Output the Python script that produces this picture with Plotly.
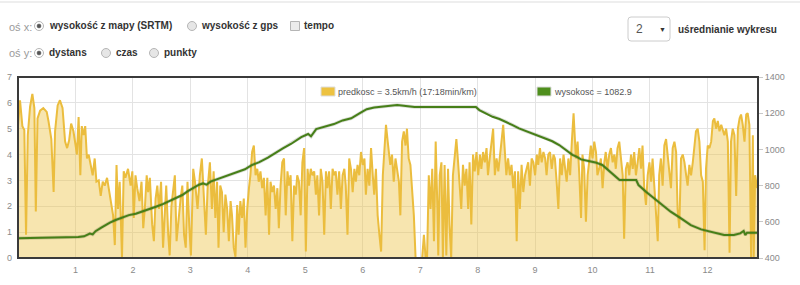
import plotly.graph_objects as go

# ---------------- data ----------------
speed_km = [
    0.0, 0.035, 0.076, 0.11, 0.14, 0.17, 0.21, 0.25, 0.285, 0.31, 0.34, 0.385, 0.44, 0.50, 0.53, 0.58,
    0.62, 0.645, 0.69, 0.73, 0.775, 0.82, 0.855, 0.89, 0.925, 0.965, 1.0, 1.025, 1.055, 1.085, 1.11,
    1.14, 1.17, 1.20, 1.23, 1.26, 1.30, 1.335, 1.365, 1.405, 1.44, 1.475, 1.51, 1.55, 1.59, 1.625,
    1.655, 1.685, 1.715, 1.74, 1.77, 1.81, 1.84, 1.87, 1.915, 1.96, 1.99, 2.015, 2.045, 2.075, 2.115,
    2.15, 2.18, 2.21, 2.24, 2.265, 2.295, 2.335, 2.365, 2.395, 2.425, 2.455, 2.49, 2.525, 2.55, 2.58,
    2.615, 2.64, 2.67, 2.70, 2.73, 2.76, 2.80, 2.83, 2.86, 2.89, 2.92, 2.95, 2.98, 3.01, 3.05, 3.08,
    3.125, 3.165, 3.20, 3.23,
    3.27, 3.30, 3.34, 3.375, 3.405, 3.435, 3.465, 3.49, 3.52, 3.55, 3.58, 3.61, 3.64, 3.67, 3.70,
    3.725, 3.755, 3.785, 3.815, 3.84, 3.87, 3.90, 3.93, 3.96, 3.99, 4.02, 4.045, 4.075, 4.105, 4.135,
    4.165, 4.19, 4.22, 4.25, 4.28, 4.31, 4.34, 4.37, 4.395, 4.425, 4.455, 4.485, 4.515, 4.54, 4.57,
    4.60, 4.63, 4.66, 4.69, 4.715, 4.745, 4.775, 4.805, 4.835, 4.86, 4.89, 4.92, 4.95, 4.98, 5.01,
    5.04, 5.065, 5.095, 5.125, 5.155, 5.185, 5.21, 5.24, 5.27, 5.30, 5.33, 5.36, 5.385, 5.415, 5.445,
    5.475, 5.505, 5.53, 5.56, 5.59, 5.62, 5.65, 5.68, 5.705, 5.735, 5.765, 5.795, 5.825, 5.855, 5.88,
    5.91, 5.94, 5.97, 6.0, 6.03, 6.055, 6.085, 6.115, 6.145, 6.175, 6.20, 6.23, 6.26, 6.29, 6.32,
    6.35, 6.38, 6.405, 6.435,
    6.48, 6.51, 6.54, 6.57, 6.60, 6.63, 6.655, 6.685, 6.715, 6.745, 6.77, 6.80, 6.83, 6.86, 6.89,
    6.92, 7.035, 7.065, 7.095, 7.12, 7.15, 7.18, 7.21, 7.24, 7.27, 7.30, 7.315, 7.34, 7.37, 7.395,
    7.425, 7.455, 7.485, 7.51, 7.54, 7.57, 7.60, 7.63, 7.66, 7.69, 7.715, 7.745, 7.775, 7.805, 7.835,
    7.86, 7.89, 7.92, 7.95, 7.98, 8.01, 8.04, 8.065, 8.095, 8.125, 8.155, 8.18, 8.21, 8.24, 8.27,
    8.30, 8.33, 8.36, 8.385, 8.415, 8.445, 8.475, 8.50, 8.53, 8.56, 8.59, 8.62, 8.65, 8.68, 8.705,
    8.735, 8.765, 8.795, 8.825, 8.855, 8.88, 8.91, 8.94, 8.97, 9.0, 9.03, 9.055, 9.085, 9.115, 9.145,
    9.175, 9.20, 9.23, 9.26, 9.29, 9.32, 9.345, 9.375, 9.405, 9.435, 9.465, 9.495, 9.52, 9.55, 9.58,
    9.61, 9.64, 9.67,
    9.71, 9.74, 9.77, 9.80, 9.825, 9.855, 9.885, 9.915, 9.94, 9.97, 10.0, 10.03, 10.06, 10.085,
    10.115, 10.145, 10.175, 10.205, 10.23, 10.26, 10.29, 10.32, 10.35, 10.38, 10.405, 10.435, 10.465,
    10.495, 10.525, 10.55, 10.58, 10.61, 10.64, 10.67, 10.70, 10.725, 10.755, 10.785, 10.815, 10.845,
    10.87, 10.90, 10.93, 10.96, 10.99, 11.02, 11.045, 11.075, 11.105, 11.135, 11.16, 11.19, 11.22,
    11.25, 11.28, 11.31, 11.335, 11.365, 11.395, 11.425, 11.455, 11.48, 11.51, 11.54, 11.57, 11.60,
    11.63, 11.655, 11.685, 11.715, 11.745, 11.775, 11.80, 11.83, 11.86, 11.89, 11.92, 11.95, 11.975,
    12.005, 12.035, 12.065, 12.095, 12.12, 12.15, 12.18, 12.21, 12.24, 12.265, 12.295, 12.325,
    12.355, 12.385, 12.41, 12.44, 12.47, 12.50, 12.53, 12.56, 12.585, 12.615, 12.645, 12.675, 12.70,
    12.73, 12.76, 12.79, 12.805, 12.83, 12.865,
]
speed_kmh = [
    5.1, 6.1, 5.1, 4.95, 0.9, 4.75, 5.85, 6.35, 5.8, 1.8, 5.4, 5.7, 5.8, 5.65, 5.3, 4.6,
    2.55, 4.9, 5.9, 6.1, 5.8, 4.5, 4.25, 4.55, 5.2, 4.9, 4.4, 4.0, 5.45, 3.2, 5.1,
    4.75, 5.1, 3.85, 4.0, 3.7, 3.2, 3.85, 2.95, 3.0, 2.4, 2.95, 2.8, 3.1, 2.55, 1.9,
    1.65, 0.5, 3.6, 1.9, 2.95, 0.0, 3.35, 3.1, 3.45, 2.8, 3.35, 1.55, 3.2, 2.7, 2.2,
    2.95, 1.15, 2.0, 3.2, 2.55, 3.1, 1.3, 0.65, 2.3, 2.8, 1.9, 2.95, 0.4, 1.65, 2.8,
    0.9, 0.1, 2.0, 2.7, 3.2, 0.65, 1.65, 2.3, 2.8, 0.9, 0.4, 2.95, 1.3, 0.1, 3.45, 2.95,
    1.9, 3.2, 3.85, 2.55,
    0.9, 2.7, 3.7, 1.9, 3.35, 1.55, 2.95, 0.4, 2.8, 2.55, 1.0, 2.45, 1.9, 0.65, 2.2,
    1.65, 0.4, 0.05, 2.05, 0.9, 2.2, 1.55, 2.3, 0.4, 1.9, 2.7, 3.2, 4.1, 4.35, 3.2,
    3.45, 2.95, 3.35, 2.7, 3.1, 1.65, 3.1, 0.9, 2.95, 2.55, 2.8, 1.9, 2.7, 1.15, 2.8,
    3.7, 3.85, 1.65, 3.35, 2.8, 3.2, 0.65, 2.8, 2.45, 3.2, 2.95, 1.65, 3.7, 4.25, 0.25,
    3.45, 2.8, 3.45, 3.2, 3.35, 2.45, 3.2, 1.65, 3.45, 2.95, 0.9, 3.35, 2.7, 3.35, 1.9,
    3.45, 3.2, 3.35, 2.45, 3.35, 1.9, 3.2, 3.45, 2.8, 0.9, 3.85, 3.45, 2.55, 3.45, 2.95,
    3.6, 3.2, 4.1, 3.6, 3.85, 2.45, 3.45, 2.8, 4.25, 3.2, 2.45, 3.45, 1.65, 0.9, 0.25,
    3.2, 4.5, 5.15, 4.5,
    3.6, 4.0, 2.95, 3.85, 3.45, 2.95, 1.65, 4.5, 4.9, 4.35, 5.0, 3.85, 3.6, 2.7, 1.65,
    0.0, 0.0, 0.9, 0.0, 0.0, 3.2, 1.9, 3.45, 0.65, 4.5, 1.9, 0.1, 3.2, 3.7, 0.0,
    3.6, 0.1, 3.45, 1.3, 0.0, 3.2, 4.0, 4.6, 3.7, 2.8, 1.9, 3.6, 2.8, 3.45, 1.9,
    3.7, 1.3, 4.0, 3.35, 4.1, 3.2, 4.0, 3.45, 4.1, 3.7, 4.25, 3.2, 3.85, 4.35, 5.0,
    3.2, 3.85, 3.35, 4.0, 4.5, 5.15, 4.0, 3.2, 3.85, 3.2, 3.6, 2.7, 3.35, 0.65, 3.35,
    1.9, 3.6, 2.55, 3.2, 3.45, 3.7, 2.8, 3.85, 3.7, 3.2, 4.0, 3.6, 4.25, 3.7, 4.1,
    3.85, 3.2, 4.0, 4.1, 3.45, 4.0, 3.85, 2.95, 1.9, 3.85, 3.2, 4.0, 3.6, 2.95, 3.85,
    3.2, 4.5, 5.6,
    3.85, 4.5, 3.2, 1.55, 4.0, 3.45, 1.4, 3.2, 3.7, 4.35, 3.85, 4.5, 4.1, 3.2,
    3.45, 3.85, 2.7, 3.7, 4.1, 3.45, 4.0, 4.25, 3.7, 4.0, 3.45, 4.25, 4.5,
    3.7, 3.2, 0.75, 3.45, 3.7, 3.2, 4.0, 3.45, 4.1, 3.2, 3.7, 4.25, 3.45,
    4.35, 2.7, 2.05, 3.2, 3.7, 2.95, 3.85, 2.8, 1.65, 0.65, 3.2, 3.85, 2.8,
    4.35, 4.6, 3.85, 3.2, 2.7, 4.25, 4.5, 4.1, 1.9, 1.15, 3.85, 4.0, 3.7,
    3.2, 2.8, 3.6, 3.2, 3.7, 4.5, 4.9, 5.0, 4.5, 3.2, 2.95, 0.3, 3.45,
    4.35, 4.25, 4.5, 5.3, 5.4, 5.0, 5.3, 4.9, 5.15, 5.0, 4.75, 5.0,
    4.5, 0.2, 4.5, 5.0, 4.75, 2.4, 5.0, 5.4, 5.55, 5.15, 4.5, 5.55, 5.6,
    5.15, 0.0, 4.75, 0.0, 3.2, 2.7,
]

elev_km = [
    0.0, 0.3, 0.6, 0.9, 1.05, 1.15, 1.25, 1.3, 1.35, 1.45, 1.52, 1.6, 1.7, 1.8, 1.93, 2.05, 2.16,
    2.28, 2.4, 2.52, 2.63, 2.75, 2.86, 2.95, 3.09, 3.15, 3.22, 3.28, 3.35, 3.5, 3.65, 3.8, 3.95,
    4.06, 4.2, 4.35, 4.5, 4.61, 4.75, 4.93, 5.05, 5.1, 5.19, 5.35, 5.5, 5.65, 5.8, 5.95, 6.07,
    6.2, 6.4, 6.6, 6.75, 6.9, 7.3, 7.6, 7.75, 7.8, 7.97, 8.03, 8.15, 8.26, 8.38, 8.49, 8.6, 8.72,
    8.85, 8.96, 9.08, 9.19, 9.3, 9.42, 9.55, 9.65, 9.72, 9.8, 9.95, 10.05, 10.17, 10.3, 10.47,
    10.76, 10.8, 10.93, 11.0, 11.13, 11.25, 11.36, 11.54, 11.71, 11.89, 12.06, 12.29, 12.46,
    12.57, 12.63, 12.66, 12.69, 12.88,
]
elev_m = [
    509, 510, 512, 515, 516, 520, 535, 530, 548, 568, 582, 596, 610, 622, 637, 645, 656,
    668, 683, 698, 715, 730, 748, 768, 794, 805, 812, 805, 822, 840, 855, 872, 890,
    912, 930, 955, 985, 1006, 1030, 1068, 1085, 1072, 1112, 1125, 1140, 1160, 1172, 1200, 1222,
    1232, 1238, 1245, 1240, 1234, 1234, 1234, 1238, 1234, 1234, 1217, 1200, 1180, 1168, 1153, 1135, 1116,
    1100, 1089, 1075, 1061, 1045, 1024, 995, 970, 960, 945, 935, 928, 914, 880, 831,
    831, 803, 766, 748, 711, 683, 656, 619, 582, 558, 545, 527, 527,
    536, 549, 527, 540, 540,
]

x_ticks = list(range(1, 13))
y_ticks = list(range(0, 8))
y2_ticks = [400, 600, 800, 1000, 1200, 1400]

legend_speed = "predkosc = 3.5km/h (17:18min/km)"
legend_elev = "wysokosc = 1082.9"

row1 = [("wysokość z mapy (SRTM)", "radio_on"), ("wysokość z gps", "radio_off"), ("tempo", "check")]
row2 = [("dystans", "radio_on"), ("czas", "radio_off"), ("punkty", "radio_off")]
avg_value = "2"
avg_label = "uśrednianie wykresu"

# ---------------- geometry helpers (pixel -> paper) ----------------
W, H = 800, 285
L, R, T, B = 18, 758, 77, 258
PW, PH = R - L, B - T


def px(x):
    return (x - L) / PW


def py(y):
    return (B - y) / PH


YELLOW = "#ebbd3e"
YELLOW_FILL = "rgba(237,194,64,0.42)"
GREEN = "#467f18"
FONT = "Liberation Sans, Arial, sans-serif"

fig = go.Figure()
fig.add_trace(go.Scatter(
    x=speed_km, y=speed_kmh, mode="lines", fill="tozeroy", fillcolor=YELLOW_FILL,
    line=dict(color=YELLOW, width=2), hoverinfo="skip", showlegend=False, yaxis="y"))
fig.add_trace(go.Scatter(
    x=elev_km, y=elev_m, mode="lines", line=dict(color="rgba(40,60,10,0.18)", width=3.5),
    hoverinfo="skip", showlegend=False, yaxis="y2"))
fig.add_trace(go.Scatter(
    x=elev_km, y=elev_m, mode="lines", line=dict(color=GREEN, width=2),
    hoverinfo="skip", showlegend=False, yaxis="y2"))

shapes = []
annotations = []

# plot border
shapes.append(dict(type="rect", xref="paper", yref="paper", x0=0, x1=1, y0=0, y1=1,
                   line=dict(color="#3a3a3a", width=2), layer="above"))
# top separator line of page
shapes.append(dict(type="line", xref="paper", yref="paper", x0=px(0), x1=px(800), y0=py(2), y1=py(2),
                   line=dict(color="#dddddd", width=1)))


def text(x, y, s, size=10, color="#333333", bold=False, anchor="left"):
    annotations.append(dict(
        x=px(x), y=py(y), xref="paper", yref="paper", text=("<b>%s</b>" % s) if bold else s,
        showarrow=False, xanchor=anchor, yanchor="middle", borderpad=0,
        font=dict(family=FONT, size=size, color=color)))


def radio(cx, cy, on):
    r = 4.5
    shapes.append(dict(type="circle", xref="paper", yref="paper",
                       x0=px(cx - r), x1=px(cx + r), y0=py(cy + r), y1=py(cy - r),
                       line=dict(color="#b5b5b5", width=1),
                       fillcolor="#ffffff" if on else "#e6e6e6"))
    if on:
        r2 = 2
        shapes.append(dict(type="circle", xref="paper", yref="paper",
                           x0=px(cx - r2), x1=px(cx + r2), y0=py(cy + r2), y1=py(cy - r2),
                           line=dict(color="#555555", width=0.5), fillcolor="#555555"))


def checkbox(cx, cy):
    s = 4.5
    shapes.append(dict(type="rect", xref="paper", yref="paper",
                       x0=px(cx - s), x1=px(cx + s), y0=py(cy + s), y1=py(cy - s),
                       line=dict(color="#b5b5b5", width=1), fillcolor="#ececec"))


# row 1
text(8, 27, "oś x:", size=11, color="#9a9a9a")
r1_pos = [(39, 48), (192, 200), (295, 303)]
for (lab, kind), (cx, tx) in zip(row1, r1_pos):
    if kind == "check":
        checkbox(cx, 26)
    else:
        radio(cx, 26, kind == "radio_on")
    text(tx, 26, lab, size=10, color="#333333", bold=True)

# row 2
text(8, 53, "oś y:", size=11, color="#9a9a9a")
r2_pos = [(39, 48), (106, 115), (154, 163)]
for (lab, kind), (cx, tx) in zip(row2, r2_pos):
    radio(cx, 53, kind == "radio_on")
    text(tx, 53, lab, size=10, color="#333333", bold=True)

# dropdown
x0d, x1d, y0d, y1d, rr = 628, 670, 17, 41, 3
path = ("M {a},{b} L {c},{b} Q {d},{b} {d},{e} L {d},{f} Q {d},{g} {c},{g} "
        "L {a},{g} Q {h},{g} {h},{f} L {h},{e} Q {h},{b} {a},{b} Z").format(
    a=px(x0d + rr), b=py(y0d), c=px(x1d - rr), d=px(x1d), e=py(y0d + rr),
    f=py(y1d - rr), g=py(y1d), h=px(x0d))
shapes.append(dict(type="path", xref="paper", yref="paper", path=path,
                   line=dict(color="#cccccc", width=1), fillcolor="#ffffff"))
text(639, 29, avg_value, size=12, color="#555555", anchor="center")
text(662, 29, "▼", size=7, color="#333333", anchor="center")
text(677, 29, avg_label, size=10, color="#333333", bold=True)

# legend (inside plot, top)
for (x0b, lab, col) in [(321, legend_speed, "#edc240"), (537, legend_elev, "#4f8f1d")]:
    shapes.append(dict(type="rect", xref="paper", yref="paper",
                       x0=px(x0b), x1=px(x0b + 14), y0=py(96), y1=py(87),
                       line=dict(color="#dddddd", width=1), fillcolor=col))
    text(x0b + 16, 91.5, lab, size=9, color="#545454")

axis_font = dict(family=FONT, size=9, color="#8a8a8a")
fig.update_layout(
    width=W, height=H, margin=dict(l=L, r=W - R, t=T, b=H - B, autoexpand=False),
    paper_bgcolor="#ffffff", plot_bgcolor="#ffffff", hovermode=False,
    xaxis=dict(range=[0, 12.88], tickvals=x_ticks, ticktext=[str(v) for v in x_ticks],
               showgrid=True, gridcolor="#e3e3e3", gridwidth=1, zeroline=False, showline=False,
               ticks="", tickfont=axis_font, fixedrange=True, ticklabelstandoff=5),
    yaxis=dict(range=[0, 7], tickvals=y_ticks, showgrid=True, gridcolor="#e3e3e3", gridwidth=1,
               zeroline=False, showline=False, ticks="", tickfont=axis_font, fixedrange=True,
               ticklabelstandoff=5),
    yaxis2=dict(range=[400, 1400], tickvals=y2_ticks, overlaying="y", side="right", showgrid=False,
                zeroline=False, showline=False, ticks="outside", ticklen=4, tickcolor="#c8c8c8",
                tickfont=axis_font, fixedrange=True),
    shapes=shapes, annotations=annotations,
)

fig.write_html("out.html")
